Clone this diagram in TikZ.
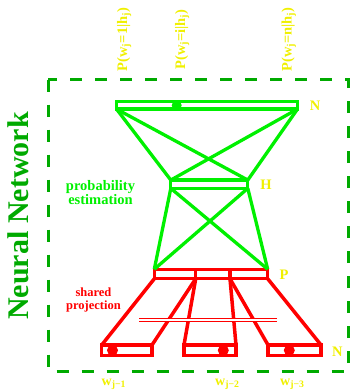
\documentclass[tikz,border=0pt]{standalone}
\usepackage{fontspec}
\setmainfont{Liberation Serif}
\usetikzlibrary{positioning}
\definecolor{NetGreen}{RGB}{0,240,0}
\definecolor{FrameGreen}{RGB}{0,170,0}
\definecolor{LabelYellow}{RGB}{240,240,0}
\definecolor{ProjRed}{RGB}{255,0,0}
\tikzset{
  netbar/.style   ={rectangle, draw=NetGreen, line width=3.3pt, inner sep=0pt, outer sep=0pt},
  projbar/.style  ={rectangle, draw=ProjRed, line width=3.3pt, inner sep=0pt, outer sep=0pt,
                    minimum height=9.5pt},
  wordbar/.style  ={rectangle, draw=ProjRed, line width=3.3pt, inner sep=0pt, outer sep=0pt,
                    minimum height=10.7pt},
  netline/.style  ={draw=NetGreen, line width=3.3pt},
  projline/.style ={draw=ProjRed, line width=3.5pt},
  shareline/.style={draw=ProjRed, double=white, double distance=2.4pt, line width=0.9pt},
  frame/.style    ={draw=FrameGreen, line width=3pt, dash pattern=on 12pt off 13pt},
  greendot/.style ={circle, fill=NetGreen, minimum size=10pt, inner sep=0pt},
  reddot/.style   ={circle, fill=ProjRed, minimum size=11pt, inner sep=0pt},
  toplabel/.style ={rotate=90, anchor=base, text=LabelYellow, inner sep=0pt,
                    font=\fontsize{14.5}{14.5}\selectfont\bfseries},
  layerlabel/.style={text=LabelYellow, inner sep=0pt, font=\fontsize{14.5}{14.5}\selectfont\bfseries},
  wordlabel/.style={anchor=base west, text=LabelYellow, inner sep=0pt,
                    font=\fontsize{14}{14}\selectfont\bfseries},
}
\begin{document}
\begin{tikzpicture}[x=1pt,y=-1pt]
  \useasboundingbox (0,0) rectangle (352,392);
  \draw[frame] (48.3,79.5) rectangle (348.3,371.3);
  \node[rotate=90, text=FrameGreen, font=\fontsize{30}{30}\selectfont\bfseries] (title) at (18.7,216) {Neural Network};

  \node[netbar,minimum width=181pt,minimum height=7.5pt] (outp) at (207,105.3) {};
  \node[netbar,minimum width=77pt,minimum height=8.3pt] (hid) at (209.3,184.2) {};
  \node[projbar,minimum width=41.4pt] (p1) at (175,274) {};
  \node[projbar,minimum width=34.3pt,right=0pt of p1] (p2) {};
  \node[projbar,minimum width=37.7pt,right=0pt of p2] (p3) {};
  \node[wordbar,minimum width=50.3pt] (w1) at (126.9,350.3) {};
  \node[wordbar,minimum width=52pt] (w2) at (210,350.3) {};
  \node[wordbar,minimum width=53pt] (w3) at (294.5,350.3) {};

  \foreach \a/\b in {outp.south west/hid.north west,outp.south west/hid.north east,
                     outp.south east/hid.north west,outp.south east/hid.north east,
                     hid.south west/p1.north west,hid.south west/p3.north east,
                     hid.south east/p1.north west,hid.south east/p3.north east}{\draw[netline] (\a) -- (\b);}
  \foreach \i in {1,2,3}{
    \draw[projline] (p\i.south west) -- (w\i.north west);
    \draw[projline] (p\i.south east) -- (w\i.north east);
  }
  \coordinate (s1) at (139.3,320);
  \coordinate (s2) at (277.3,320);
  \draw[shareline] (s1) -- (s2);

  \node[greendot] (d0) at (176.7,105.3) {};
  \node[reddot] (d1) at (112.5,350.3) {};
  \node[reddot] (d2) at (223.3,350.3) {};
  \node[reddot] (d3) at (289.3,350.3) {};

  \node[toplabel] (pr1) at (127,39.5) {P(w\textsubscript{j}=1|h\textsubscript{j})};
  \node[toplabel] (pr2) at (185,39.5) {P(w\textsubscript{j}=i|h\textsubscript{j})};
  \node[toplabel] (pr3) at (291.7,39.5) {P(w\textsubscript{j}=n|h\textsubscript{j})};

  \node[layerlabel] (nout) at (315,105.3) {N};
  \node[layerlabel] (nhid) at (266,185) {H};
  \node[layerlabel] (nproj) at (284,274.6) {P};
  \node[layerlabel] (nin) at (337.3,351.7) {N};

  \node[align=center, text=NetGreen, font=\fontsize{14.5}{14}\selectfont\bfseries] (est) at (100.5,193) {probability\\estimation};
  \node[align=center, text=ProjRed, font=\fontsize{12.5}{13.5}\selectfont\bfseries] (shr) at (93.5,300) {shared\\projection};

  \node[wordlabel] (lw1) at (101.5,385) {w\textsubscript{j−1}};
  \node[wordlabel] (lw2) at (215,385) {w\textsubscript{j−2}};
  \node[wordlabel] (lw3) at (280,385) {w\textsubscript{j−3}};
\end{tikzpicture}
\end{document}
